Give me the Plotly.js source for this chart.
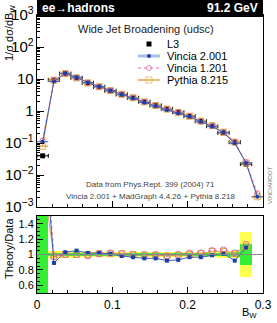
<!DOCTYPE html>
<html><head><meta charset="utf-8">
<script src="https://cdn.plot.ly/plotly-3.0.1.min.js"></script>
<style>html,body{margin:0;padding:0;background:#fff}#c{width:277px;height:323px}</style>
</head><body><div id="c"></div>
<script>
// Bin centres of B_W
var binX = [0.0075,0.0225,0.0375,0.0525,0.0675,0.0825,0.0975,0.1125,0.1275,0.1425,0.1575,0.1725,0.1875,0.2025,0.2175,0.2325,0.2475,0.2625,0.2775,0.2925];
var halfWidth = 0.0075;
// L3 data
var dataL3 = [0.04,9.4,14.8,10.9,7.6,5.7,4.3,3.3,2.6,1.95,1.5,1.17,0.92,0.69,0.48,0.335,0.21,0.106,0.022,null];
// MC predictions
var vincia2001 = [0.11,8.4,15.2,11.4,7.75,5.8,4.34,3.23,2.51,1.85,1.43,1.08,0.86,0.67,0.46,0.33,0.212,0.098,0.024,0.0021];
var vincia1201 = [0.12,9.1,14.8,10.9,7.45,5.75,4.39,3.33,2.6,1.95,1.5,1.15,0.92,0.70,0.49,0.35,0.223,0.108,0.025,0.0027];
var pythia8215 = [0.08,9.2,14.8,10.9,7.6,5.75,4.34,3.33,2.6,1.93,1.49,1.15,0.91,0.69,0.485,0.35,0.218,0.107,0.024,0.0021];
// Ratio panel
var ratioX = [0.0075,0.0225,0.0375,0.0525,0.0675,0.0825,0.0975,0.1125,0.1275,0.1425,0.1575,0.1725,0.1875,0.2025,0.2175,0.2325,0.2475,0.2625,0.2775];
var ratioV2001 = [2.75,0.89,1.03,1.05,1.02,1.02,1.01,0.98,0.965,0.95,0.95,0.92,0.93,0.965,0.965,0.99,1.01,0.92,1.09];
var ratioV1201 = [3.0,0.97,1.0,1.0,0.98,1.01,1.02,1.01,1.0,1.0,1.0,0.98,1.0,1.02,1.02,1.05,1.06,1.02,1.13];
var ratioP8215 = [2.0,0.98,1.0,1.0,1.0,1.01,1.01,1.01,1.0,0.99,0.99,0.98,0.99,1.0,1.01,1.04,1.04,1.01,1.1];
var statErr = [1.5,0.02,0.02,0.02,0.015,0.015,0.015,0.015,0.015,0.015,0.015,0.015,0.015,0.015,0.02,0.02,0.02,0.03,0.14];
var totErr  = [1.5,0.045,0.045,0.045,0.03,0.03,0.03,0.03,0.03,0.03,0.03,0.03,0.03,0.035,0.035,0.035,0.04,0.04,0.29];
// Legend labels
var legendNames = ["L3","Vincia 2.001","Vincia 1.201","Pythia 8.215"];

var F = "Liberation Sans, Arial, sans-serif";
var cBlue = "#1c3fa6", cBlueLine = "#3e5fbf", cBlueLeg = "#a9c1ea";
var cPink = "#e0689c", cOrange = "#e0a848";

var traces = [];
// ratio bands
traces.push({type:'bar', x:ratioX, y:totErr.map(function(e){return 2*e;}), base:totErr.map(function(e){return 1-e;}),
  width:0.015, marker:{color:'#ffff50', line:{width:0}}, xaxis:'x2', yaxis:'y2', showlegend:false, hoverinfo:'skip'});
traces.push({type:'bar', x:ratioX, y:statErr.map(function(e){return 2*e;}), base:statErr.map(function(e){return 1-e;}),
  width:0.015, marker:{color:'#33ee33', line:{width:0}}, xaxis:'x2', yaxis:'y2', showlegend:false, hoverinfo:'skip'});
// main panel
traces.push({type:'scatter', mode:'markers', x:binX, y:dataL3, marker:{symbol:'square', size:5, color:'#000'},
  error_x:{type:'constant', value:halfWidth, width:2, color:'#000', thickness:1},
  error_y:{type:'percent', value:6, width:0, color:'#000', thickness:1}, showlegend:false});
traces.push({type:'scatter', mode:'lines+markers', x:binX, y:pythia8215,
  line:{color:cOrange, width:1}, marker:{symbol:'square-open', size:6, color:cOrange},
  error_x:{type:'constant', value:halfWidth, width:0, color:cOrange, thickness:1.5}, showlegend:false});
traces.push({type:'scatter', mode:'lines+markers', x:binX, y:vincia1201,
  line:{color:cPink, width:1, dash:'dot'}, marker:{symbol:'circle-open', size:5, color:cPink}, showlegend:false});
traces.push({type:'scatter', mode:'lines+markers', x:binX, y:vincia2001,
  line:{color:cBlueLine, width:1}, marker:{symbol:'circle', size:4, color:cBlue},
  error_x:{type:'constant', value:halfWidth, width:0, color:cBlueLine, thickness:1}, showlegend:false});
// ratio lines
traces.push({type:'scatter', mode:'lines+markers', x:ratioX, y:ratioP8215, xaxis:'x2', yaxis:'y2',
  line:{color:cOrange, width:1}, marker:{symbol:'square-open', size:6, color:cOrange}, showlegend:false});
traces.push({type:'scatter', mode:'lines+markers', x:ratioX, y:ratioV1201, xaxis:'x2', yaxis:'y2',
  line:{color:cPink, width:1, dash:'dot'}, marker:{symbol:'circle-open', size:6, color:cPink}, showlegend:false});
traces.push({type:'scatter', mode:'lines+markers', x:ratioX, y:ratioV2001, xaxis:'x2', yaxis:'y2',
  line:{color:cBlueLine, width:1}, marker:{symbol:'square', size:4, color:cBlue}, showlegend:false});

// manual legend on a pixel-coordinate overlay subplot
var legY = [44,56,68,80];
traces.push({type:'scatter', mode:'markers', x:[149], y:[legY[0]], xaxis:'x3', yaxis:'y3', marker:{symbol:'square', size:5, color:'#000'}, showlegend:false, hoverinfo:'skip'});
traces.push({type:'scatter', mode:'lines', x:[138,160], y:[legY[1],legY[1]], xaxis:'x3', yaxis:'y3', line:{color:cBlueLeg, width:3}, showlegend:false, hoverinfo:'skip'});
traces.push({type:'scatter', mode:'markers', x:[149], y:[legY[1]], xaxis:'x3', yaxis:'y3', marker:{symbol:'circle', size:4, color:cBlue}, showlegend:false, hoverinfo:'skip'});
traces.push({type:'scatter', mode:'lines+markers', x:[138,149,160], y:[legY[2],legY[2],legY[2]], xaxis:'x3', yaxis:'y3', line:{color:cPink, width:1, dash:'dot'}, marker:{symbol:'circle-open', size:[0,5,0], color:cPink}, showlegend:false, hoverinfo:'skip'});
traces.push({type:'scatter', mode:'lines+markers', x:[138,149,160], y:[legY[3],legY[3],legY[3]], xaxis:'x3', yaxis:'y3', line:{color:cOrange, width:1.5}, marker:{symbol:'square-open', size:[0,6,0], color:cOrange}, showlegend:false, hoverinfo:'skip'});

function px(x){return (x-37)/226;}
function py(y){return (293-y)/278;}
var ann = [];
for (var i=0;i<legendNames.length;i++){
  ann.push({xref:'x3', yref:'y3', x:165, y:legY[i], text:legendNames[i], showarrow:false, xanchor:'left', yanchor:'middle', font:{family:F, size:11, color:'#000'}});
}
ann.push({xref:'paper', yref:'paper', x:px(40), y:py(8.5), text:'<b>ee→hadrons</b>', showarrow:false, xanchor:'left', yanchor:'middle', font:{family:F, size:12, color:'#fff'}});
ann.push({xref:'paper', yref:'paper', x:px(260), y:py(8.5), text:'<b>91.2 GeV</b>', showarrow:false, xanchor:'right', yanchor:'middle', font:{family:F, size:12, color:'#fff'}});
ann.push({xref:'x3', yref:'y3', x:146, y:29, text:'Wide Jet Broadening (udsc)', showarrow:false, xanchor:'center', yanchor:'middle', font:{family:F, size:11, color:'#222'}});
ann.push({xref:'x3', yref:'y3', x:150, y:184, text:'Data from Phys.Rept. 399 (2004) 71', showarrow:false, xanchor:'center', yanchor:'middle', font:{family:F, size:8, color:'#444'}});
ann.push({xref:'x3', yref:'y3', x:150, y:196, text:'Vincia 2.001 + MadGraph 4.4.26 + Pythia 8.218', showarrow:false, xanchor:'center', yanchor:'middle', font:{family:F, size:8, color:'#444'}});
ann.push({xref:'paper', yref:'paper', x:px(270), y:py(185), text:'VINCIAROOT', textangle:-90, showarrow:false, xanchor:'center', yanchor:'middle', font:{family:F, size:6, color:'#777'}});
ann.push({xref:'paper', yref:'paper', x:px(10), y:py(3), text:'1/σ dσ/dB<sub>W</sub>', textangle:-90, showarrow:false, xanchor:'center', yanchor:'top', font:{family:F, size:11, color:'#000'}});
ann.push({xref:'paper', yref:'paper', x:px(9), y:py(249), text:'Theory/Data', textangle:-90, showarrow:false, xanchor:'center', yanchor:'middle', font:{family:F, size:11, color:'#000'}});
ann.push({xref:'paper', yref:'paper', x:px(259), y:py(313), text:'B<sub>W</sub>', showarrow:false, xanchor:'right', yanchor:'middle', font:{family:F, size:11, color:'#000'}});

var axBase = {showline:true, linecolor:'#000', linewidth:1, mirror:true, ticks:'inside', tickcolor:'#000', showgrid:false, zeroline:false,
  tickfont:{family:F, size:12, color:'#000'}};

var layout = {
  width:277, height:323, margin:{l:37, r:14, t:15, b:30},
  paper_bgcolor:'#fff', plot_bgcolor:'rgba(0,0,0,0)', showlegend:false, barmode:'overlay', bargap:0,
  font:{family:F},
  xaxis: Object.assign({}, axBase, {domain:[0,1], anchor:'y', range:[0,0.3], dtick:0.1, ticklen:6, showticklabels:false,
    minor:{ticks:'inside', ticklen:3, dtick:0.02, tickcolor:'#000'}}),
  yaxis: Object.assign({}, axBase, {domain:[0.309,1], anchor:'x', type:'log', range:[-3,3], dtick:1, ticklen:7, exponentformat:'power',
    minor:{ticks:'inside', ticklen:3, dtick:'D1', tickcolor:'#000'}}),
  xaxis2: Object.assign({}, axBase, {domain:[0,1], anchor:'y2', range:[0,0.3], dtick:0.1, ticklen:6, ticklabelstandoff:1,
    minor:{ticks:'inside', ticklen:3, dtick:0.02, tickcolor:'#000'}}),
  yaxis2: Object.assign({}, axBase, {domain:[0,0.277], anchor:'x2', range:[0.5,1.5], tickvals:[0.6,0.8,1,1.2,1.4], ticktext:['0.6','0.8','1','1.2','1.4'], ticklen:6,
    tickfont:{family:F, size:11, color:'#000'}, minor:{ticks:'inside', ticklen:3, dtick:0.05, tickcolor:'#000'}}),
  xaxis3: {domain:[0,1], anchor:'y3', range:[37,263], visible:false, fixedrange:true},
  yaxis3: {domain:[0,1], anchor:'x3', range:[293,15], visible:false, fixedrange:true},
  shapes:[
    {type:'rect', xref:'paper', yref:'paper', x0:0, x1:1, y0:1-2/278, y1:1+15/278, fillcolor:'#000', line:{width:0}, layer:'above'},
    {type:'line', xref:'x2', yref:'y2', x0:0, x1:0.3, y0:1, y1:1, line:{color:'#888', width:1}, layer:'above'}
  ],
  annotations: ann
};
Plotly.newPlot('c', traces, layout, {displayModeBar:false, staticPlot:true});
</script></body></html>
